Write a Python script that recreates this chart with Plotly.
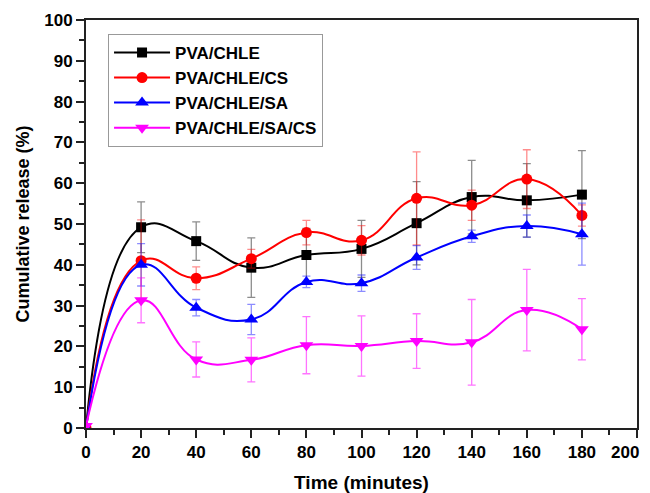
import plotly.graph_objects as go

time = [0, 20, 40, 60, 80, 100, 120, 140, 160, 180]

names = ["PVA/CHLE", "PVA/CHLE/CS", "PVA/CHLE/SA", "PVA/CHLE/SA/CS"]

x_tickvals = [0, 20, 40, 60, 80, 100, 120, 140, 160, 180, 200]
x_ticktext = ["0", "20", "40", "60", "80", "100", "120", "140", "160", "180", ""]
last_x_label = "200"

pva_chle = [0, 49.2, 45.8, 39.3, 42.4, 43.9, 50.2, 56.6, 55.8, 57.2]
pva_chle_err = [0, 6.2, 4.7, 7.3, 6.5, 7.0, 10.2, 9.0, 9.0, 10.8]

pva_chle_cs = [0, 41.0, 36.7, 41.5, 47.9, 46.0, 56.3, 54.6, 61.0, 52.1]
pva_chle_cs_err = [0, 10.0, 2.8, 2.3, 3.0, 3.6, 11.4, 3.7, 7.2, 2.6]

pva_chle_sa = [0, 40.0, 29.5, 26.6, 35.8, 35.5, 41.8, 47.0, 49.5, 47.5]
pva_chle_sa_err = [0, 5.2, 2.0, 3.7, 1.4, 2.0, 2.9, 1.5, 2.7, 7.6]

pva_chle_sa_cs = [0.5, 31.3, 16.8, 16.7, 20.3, 20.1, 21.3, 21.0, 28.9, 24.2]
pva_chle_sa_cs_err = [0, 5.5, 4.3, 5.4, 7.0, 7.4, 6.7, 10.5, 10.0, 7.5]

series = [
    (pva_chle, pva_chle_err, "black", "rgba(0,0,0,0.45)", "square", 10),
    (pva_chle_cs, pva_chle_cs_err, "red", "rgba(255,0,0,0.45)", "circle", 11),
    (pva_chle_sa, pva_chle_sa_err, "blue", "rgba(0,0,255,0.45)", "triangle-up", 12),
    (pva_chle_sa_cs, pva_chle_sa_cs_err, "#ff00ff", "rgba(255,0,255,0.55)", "triangle-down", 12),
]

fig = go.Figure()
for name, (vals, errs, col, ecol, sym, sz) in zip(names, series):
    fig.add_trace(go.Scatter(
        x=time, y=vals, name=name, mode="lines+markers",
        line=dict(color=col, width=2, shape="spline", smoothing=1.3),
        marker=dict(symbol=sym, size=sz, color=col),
        error_y=dict(type="data", array=errs, visible=True, color=ecol,
                     thickness=1.3, width=4),
    ))

font_family = "Liberation Sans, Arial, sans-serif"
tick_font = dict(size=17, family=font_family, weight="bold", color="black")

# last x tick label drawn so that it stays inside the visible window
fig.add_annotation(
    x=x_tickvals[-1], y=0, xref="x", yref="y", text=last_x_label,
    showarrow=False, xanchor="right", yanchor="middle", xshift=4, yshift=-24,
    font=tick_font,
)

# the page body has an 8px default margin; positions are offset accordingly
fig.update_layout(
    width=642, height=485,
    margin=dict(l=78, r=13, t=12, b=65),
    paper_bgcolor="white", plot_bgcolor="white",
    font=dict(family=font_family, color="black"),
    showlegend=True,
    legend=dict(x=0.040, y=0.966, xanchor="left", yanchor="top",
                bordercolor="#999999", borderwidth=1, bgcolor="white",
                font=dict(size=17, family=font_family, weight="bold"),
                tracegroupgap=0, itemwidth=56),
    xaxis=dict(
        range=[0, 200], tickmode="array", tickvals=x_tickvals, ticktext=x_ticktext,
        showgrid=False, zeroline=False, showline=True, linecolor="#222",
        linewidth=2, mirror=True, ticks="outside", ticklen=8, tickwidth=2,
        tickcolor="#222", automargin=False,
        minor=dict(ticks="outside", dtick=10, tick0=0, ticklen=5, tickwidth=2, tickcolor="#222"),
        tickfont=tick_font,
        title=dict(text="<b>Time (minutes)</b>", font=dict(size=19), standoff=18),
    ),
    yaxis=dict(
        range=[0, 100], tickmode="linear", tick0=0, dtick=10,
        showgrid=False, zeroline=False, showline=True, linecolor="#222",
        linewidth=2, mirror=True, ticks="outside", ticklen=8, tickwidth=2,
        tickcolor="#222", automargin=False, ticklabeloverflow="allow",
        minor=dict(ticks="outside", dtick=5, ticklen=5, tickwidth=2, tickcolor="#222"),
        tickfont=tick_font,
        title=dict(text="<b>Cumulative release (%)</b>", font=dict(size=18), standoff=10),
    ),
)

fig.write_html("out.html")
